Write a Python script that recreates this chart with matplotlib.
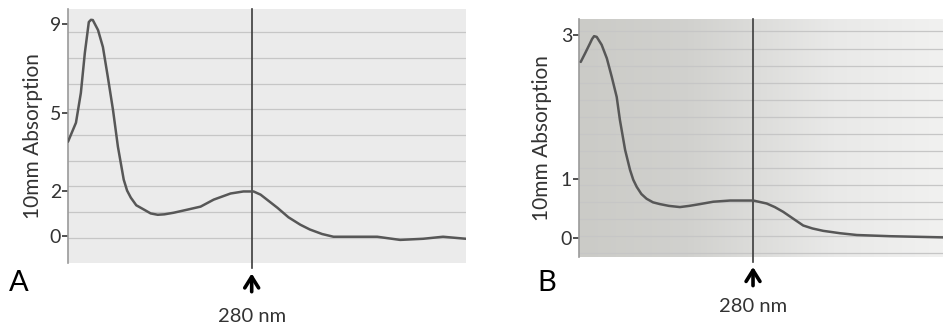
import numpy as np
import matplotlib
matplotlib.use("Agg")
import matplotlib.pyplot as plt
from matplotlib.colors import LinearSegmentedColormap

plt.rcParams['font.family'] = ['Lato', 'DejaVu Sans']

# ---------------- data ----------------
wl_a = [220.0, 222.6, 224.2, 225.5, 226.8, 227.5, 228.1, 229.8, 231.4, 233.0, 234.7,
        236.3, 238.2, 239.3, 240.5, 242.3, 244.8, 247.0, 249.3, 251.5, 254.5, 259.1,
        263.3, 267.6, 273.1, 277.3, 280.6, 282.9, 288.4, 292.0, 295.9, 299.0,
        303.0, 306.7, 321.0, 328.5, 336.0, 342.5, 350.0]
abs_a = [3.88, 4.61, 5.89, 7.70, 9.10, 9.20, 9.19, 8.74, 7.97, 6.62, 5.12,
         3.69, 2.42, 2.00, 1.69, 1.35, 1.16, 0.99, 0.93, 0.95, 1.02, 1.16,
         1.29, 1.60, 1.87, 1.96, 1.96, 1.82, 1.24, 0.82, 0.49, 0.28,
         0.08, -0.04, -0.04, -0.18, -0.13, -0.04, -0.13]
wl_b = [220.6, 222.1, 223.8, 224.5, 225.2, 226.1, 227.8, 229.6, 231.3, 233.0, 234.1,
        235.9, 237.6, 238.7, 239.9, 241.5, 243.3, 245.5, 247.9, 251.0, 254.8, 258.0,
        261.7, 266.3, 272.1, 279.6, 280.1, 284.7, 287.5, 290.4, 294.0, 297.3,
        300.5, 304.2, 310.0, 315.8, 327.2, 345.5]
abs_b = [2.63, 2.75, 2.89, 2.95, 2.99, 2.98, 2.87, 2.68, 2.42, 2.14, 1.82,
         1.40, 1.12, 0.98, 0.86, 0.74, 0.66, 0.60, 0.57, 0.54, 0.52, 0.54,
         0.57, 0.61, 0.63, 0.63, 0.63, 0.58, 0.52, 0.44, 0.32, 0.21,
         0.16, 0.12, 0.08, 0.05, 0.03, 0.01]
ticks_a = [0, 2, 5, 9]
ticks_b = [0, 1, 3]
marker_nm = 280
panel_labels = ['A', 'B']
marker_text = '280 nm'
ylabel = '10mm Absorption'

# ---------------- layout / scale (non-linear printed axes) ----------------
tick_pos_a = [0, 45.3, 123.3, 211.7]   # printed positions of ticks
tick_pos_b = [0, 59.4, 202.4]


def make_scale(vals, pos):
    vals = np.asarray(vals, float)
    pos = np.asarray(pos, float)
    s0 = (pos[1] - pos[0]) / (vals[1] - vals[0])
    s1 = (pos[-1] - pos[-2]) / (vals[-1] - vals[-2])

    def fwd(v):
        v = np.asarray(v, float)
        out = np.interp(v, vals, pos)
        out = np.where(v < vals[0], pos[0] + (v - vals[0]) * s0, out)
        out = np.where(v > vals[-1], pos[-1] + (v - vals[-1]) * s1, out)
        return out

    def inv(p):
        p = np.asarray(p, float)
        out = np.interp(p, pos, vals)
        out = np.where(p < pos[0], vals[0] + (p - pos[0]) / s0, out)
        out = np.where(p > pos[-1], vals[-1] + (p - pos[-1]) / s1, out)
        return out
    return fwd, inv


fig = plt.figure(figsize=(9.43, 3.26), dpi=100)
fig.patch.set_facecolor('white')

axA = fig.add_axes([68 / 943, 1 - 263 / 326, 398 / 943, 254 / 326])
axB = fig.add_axes([579 / 943, 1 - 257 / 326, 364 / 943, 238 / 326])

curve_col = '#575757'
line_col = '#3c3c3c'
grid_col = '#c6c6c6'
text_col = '#333333'

configs = [
    (axA, wl_a, abs_a, ticks_a, tick_pos_a, (220, 350), (-1.2, 9.69),
     0.0996 + 0.101 * np.arange(9), -0.063, 'A', 19 / 943, (-0.030, -0.124), -0.209),
    (axB, wl_b, abs_b, ticks_b, tick_pos_b, (220, 345.5), (-0.32, 3.23),
     0.018 + 0.0715 * np.arange(14), -0.074, 'B', 547 / 943, (-0.030, -0.132), -0.206),
]

for i, (ax, x, y, tks, tpos, xl, yl, grid_y, ylab_x, lab, lab_x, arr, txt_y) in enumerate(configs):
    fwd, inv = make_scale(tks, tpos)
    ax.set_yscale('function', functions=(fwd, inv))
    # background
    if i == 0:
        ax.set_facecolor('#ebebeb')
    else:
        cmap = LinearSegmentedColormap.from_list(
            'bg', [(0, '#cbcbc7'), (0.3, '#d1d1ce'), (0.5, '#dddddb'),
                   (0.7, '#e9e9e8'), (1, '#f1f1f0')])
        grad = np.linspace(0, 1, 256).reshape(1, -1)
        ax.imshow(grad, cmap=cmap, extent=[0, 1, 0, 1], transform=ax.transAxes,
                  aspect='auto', zorder=0)
    for gy in grid_y:
        ax.plot([0, 1], [gy, gy], transform=ax.transAxes, color=grid_col,
                lw=0.9, zorder=1)
    ax.plot(x, y, color=curve_col, lw=1.8, zorder=3, solid_capstyle='round',
            solid_joinstyle='round')
    ax.axvline(marker_nm, ymin=-0.02, ymax=1, color=line_col, lw=1.2,
               zorder=2, clip_on=False)
    ax.set_xlim(*xl)
    ax.set_ylim(*yl)
    ax.set_yticks(tks)
    ax.set_yticklabels([str(t) for t in tks], fontsize=14, color=text_col)
    ax.yaxis.set_minor_locator(matplotlib.ticker.NullLocator())
    ax.tick_params(axis='y', length=4, width=1.2, color='#333333', pad=1)
    ax.set_xticks([])
    for s in ['top', 'right', 'bottom']:
        ax.spines[s].set_visible(False)
    ax.spines['left'].set_color('#9a9a9a')
    ax.spines['left'].set_linewidth(1.2)
    ax.set_ylabel(ylabel, fontsize=15, color=text_col)
    ax.yaxis.set_label_coords(ylab_x, 0.5)
    ax.annotate('', xy=(marker_nm, arr[0]), xytext=(marker_nm, arr[1]),
                xycoords=('data', 'axes fraction'),
                textcoords=('data', 'axes fraction'),
                arrowprops=dict(arrowstyle='->,head_length=0.8,head_width=0.5',
                                color='black', lw=2.6), annotation_clip=False)
    ax.text(marker_nm, txt_y, marker_text, transform=ax.get_xaxis_transform(),
            ha='center', va='center', fontsize=14.5, color=text_col)
    fig.text(lab_x, 1 - 283 / 326, lab, ha='center', va='center',
             fontsize=21, color='black')

fig.savefig('out.png', dpi=100, facecolor='white')
